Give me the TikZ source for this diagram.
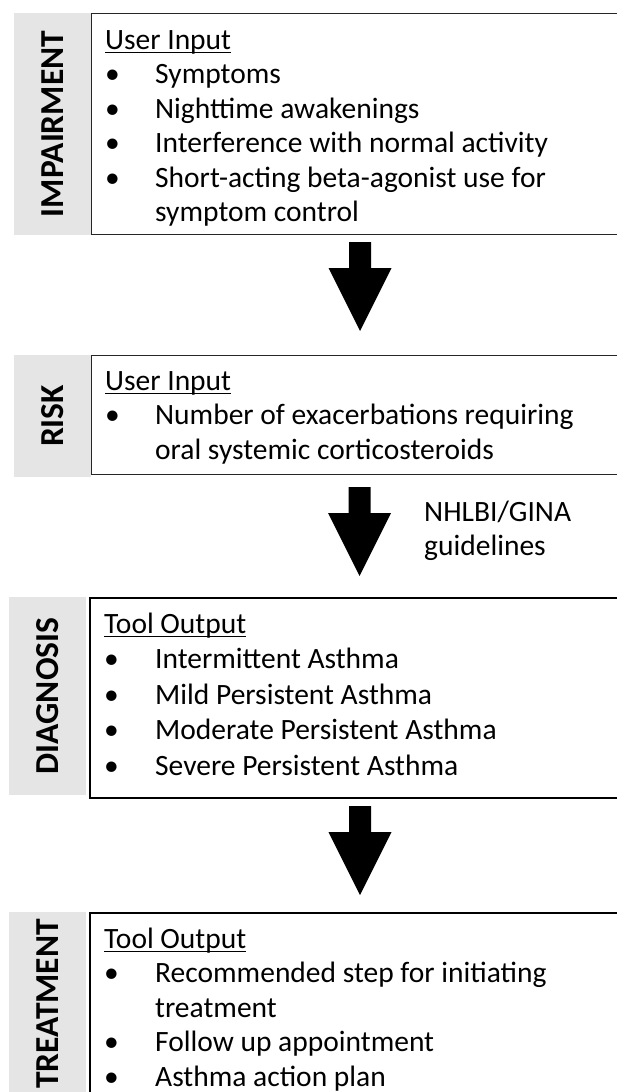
\documentclass[tikz,border=0pt]{standalone}
\usepackage{fontspec}
\setmainfont{Carlito}
\usepackage{array}
\newcommand{\ulx}[1]{{\setbox0\hbox{#1}\rlap{\rule[-3.8pt]{\wd0}{1.3pt}}\box0}}
\newcommand{\blockarrow}[2]{%
  \fill ({#1-11},{-#2}) -- ({#1+11},{-#2}) -- ({#1+11},{-#2-26}) -- ({#1+31.5},{-#2-26})
    -- ({#1},{-#2-89}) -- ({#1-31.5},{-#2-26}) -- ({#1-11},{-#2-26}) -- cycle;}
\begin{document}
\begin{tikzpicture}[x=1pt,y=1pt,
  bar/.style={fill=black!10, rotate=90, inner sep=0pt, text=black,
    font=\fontsize{33.5}{38}\selectfont\bfseries},
  thinbox/.style={draw=black!85, line width=1.3pt, inner sep=0pt, anchor=north west},
  thickbox/.style={draw=black, line width=2.2pt, inner sep=0pt, anchor=north west},
  txt/.style={anchor=base west, inner sep=0pt, font=\fontsize{29.5}{34.5}\selectfont},
  txtb/.style={anchor=base west, inner sep=0pt, font=\fontsize{29.5}{35.5}\selectfont},
  lbl/.style={anchor=base west, inner sep=0pt, font=\fontsize{29.5}{34}\selectfont}]
\useasboundingbox (0,0) rectangle (617,-1092);
\clip (0,0) rectangle (617,-1092);
\fill[white] (0,0) rectangle (617,-1092);

% IMPAIRMENT
\node[bar, minimum width=222pt, minimum height=77pt] (impL) at (52.5,-124) {IMPAIRMENT};
\node[thinbox, minimum width=560pt, minimum height=221pt] (impB) at (91,-13) {};
\node[txt] (impT) at (105,-49) {\begin{tabular}[t]{@{}p{50pt}@{}l@{}}
\multicolumn{2}{@{}l@{}}{\ulx{User Input}}\\
\textbullet & Symptoms\\
\textbullet & Nighttime awakenings\\
\textbullet & Interference with normal activity\\
\textbullet & Short-acting beta-agonist use for\\
 & symptom control
\end{tabular}};

\blockarrow{360}{242}

% RISK
\node[bar, minimum width=122pt, minimum height=77pt] (riskL) at (52.5,-416) {RISK};
\node[thinbox, minimum width=560pt, minimum height=119pt] (riskB) at (91,-355) {};
\node[txt] (riskT) at (105,-390) {\begin{tabular}[t]{@{}p{50pt}@{}l@{}}
\multicolumn{2}{@{}l@{}}{\ulx{User Input}}\\
\textbullet & Number of exacerbations requiring\\
 & oral systemic corticosteroids
\end{tabular}};

\blockarrow{359.5}{487}
\node[lbl] (gl1) at (424,-521) {NHLBI/GINA};
\node[lbl] (gl2) at (424,-555) {guidelines};

% DIAGNOSIS
\node[bar, minimum width=198pt, minimum height=77pt] (diagL) at (47.5,-696) {DIAGNOSIS};
\node[thickbox, minimum width=560pt, minimum height=200pt] (diagB) at (89,-597) {};
\node[txtb] (diagT) at (104,-633) {\begin{tabular}[t]{@{}p{51pt}@{}l@{}}
\multicolumn{2}{@{}l@{}}{\ulx{Tool Output}}\\
\textbullet & Intermittent Asthma\\
\textbullet & Mild Persistent Asthma\\
\textbullet & Moderate Persistent Asthma\\
\textbullet & Severe Persistent Asthma
\end{tabular}};

\blockarrow{360}{806}

% TREATMENT
\node[bar, minimum width=184pt, minimum height=77pt] (treatL) at (47.5,-1004) {TREATMENT};
\node[thickbox, minimum width=560pt, minimum height=200pt] (treatB) at (89,-912) {};
\node[txt] (treatT) at (104,-948) {\begin{tabular}[t]{@{}p{51pt}@{}l@{}}
\multicolumn{2}{@{}l@{}}{\ulx{Tool Output}}\\
\textbullet & Recommended step for initiating\\
 & treatment\\
\textbullet & Follow up appointment\\
\textbullet & Asthma action plan
\end{tabular}};
\end{tikzpicture}
\end{document}
